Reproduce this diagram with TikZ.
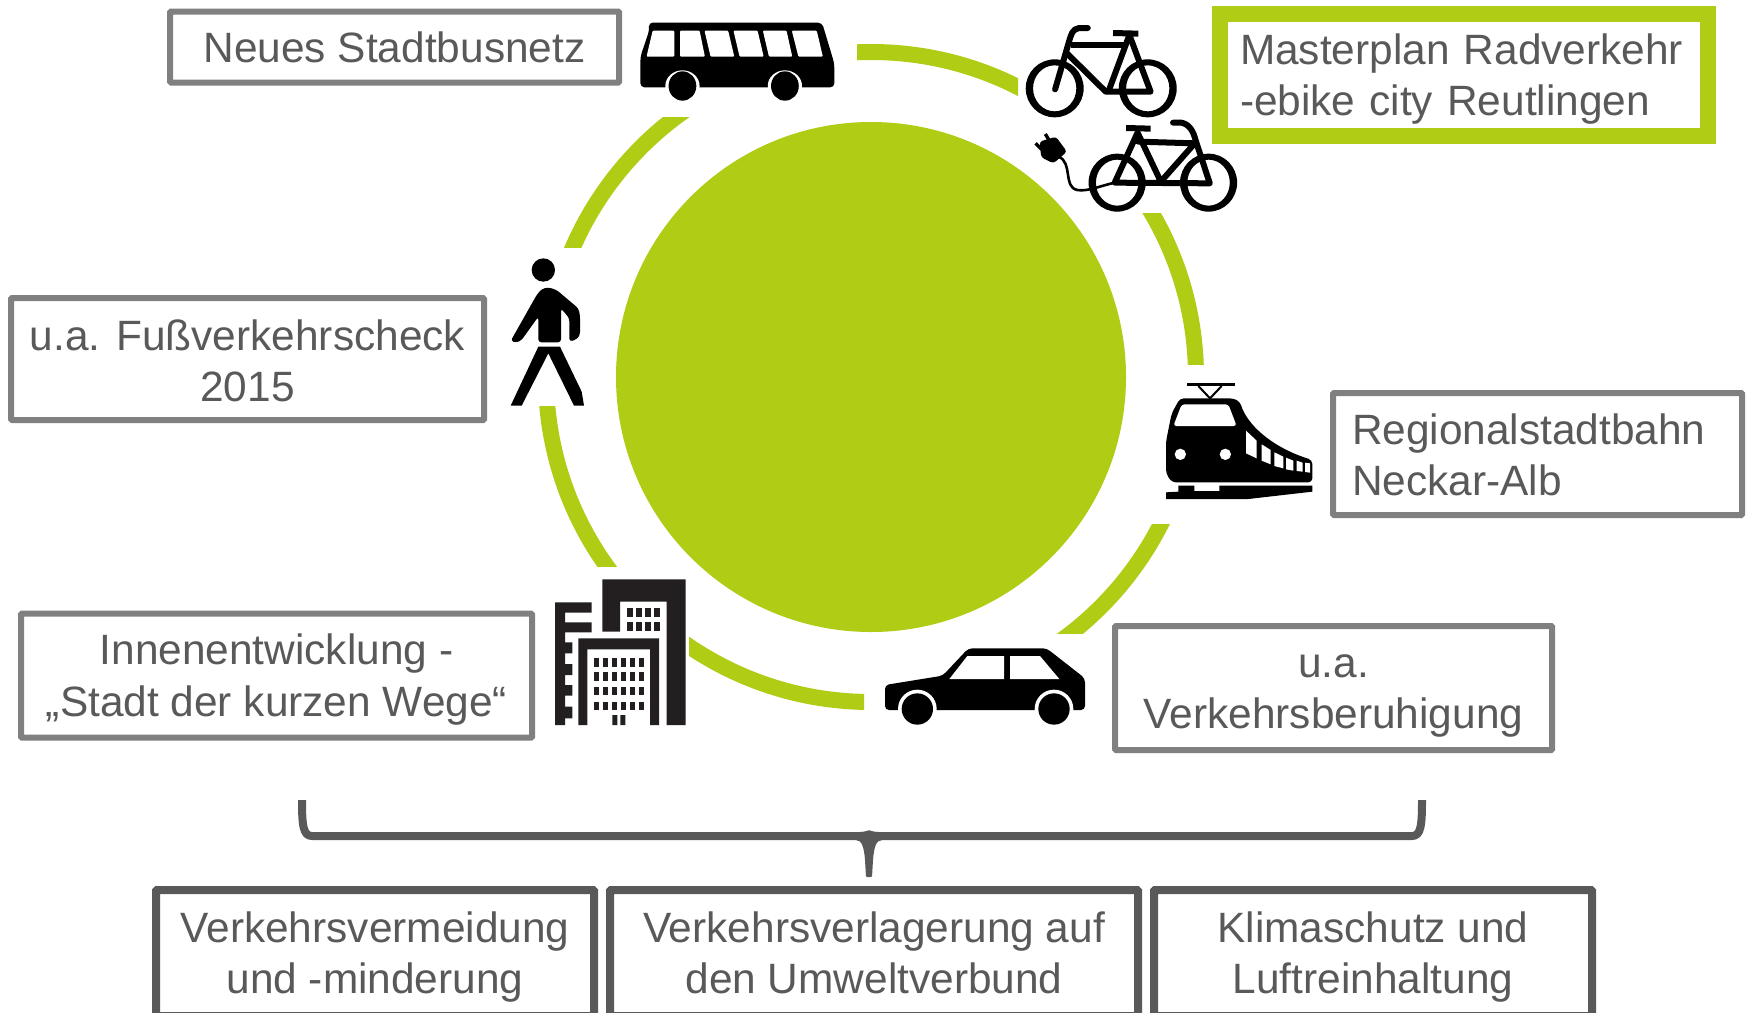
\documentclass[tikz,border=0pt]{standalone}
\usepackage{fontspec}
\setmainfont{Liberation Sans}
\definecolor{lime}{HTML}{B1CC14}
\definecolor{boxgrey}{HTML}{808080}
\definecolor{darkgrey}{HTML}{595959}
\definecolor{build}{HTML}{231F20}
\tikzset{
  lbl/.style={font=\fontsize{42.4}{51.3}\selectfont,text=darkgrey,align=center,inner sep=0pt,outer sep=0pt},
  greybox/.style={lbl,draw=boxgrey,line width=6pt,rounded corners=1pt,fill=white},
  limebox/.style={lbl,draw=lime,line width=16pt,fill=white},
  darkbox/.style={lbl,draw=darkgrey,line width=8pt,rounded corners=1pt,fill=white},
  ringseg/.style={draw=lime,line width=16pt},
  zoomA/.style={shift={(620,0)},xscale=0.40816,yscale=0.33333},
  zoomB/.style={shift={(480,240)},xscale=0.33333,yscale=0.33333},
  zoomC/.style={shift={(860,370)},xscale=0.33333,yscale=0.33333},
}
\newcommand{\sr}{\rule[-10.6pt]{0pt}{51.3pt}}
\newcommand{\srtall}[1]{\rule[-10.6pt]{0pt}{\dimexpr51.3pt+#1\relax}}
\newcommand{\ringpiece}[4]{\begin{scope}\clip (#1,#2) rectangle (#3,#4);\path[ringseg] (centre) circle [radius=325pt];\end{scope}}
\begin{document}
\begin{tikzpicture}[x=1pt,y=-1pt]
\useasboundingbox (0,0) rectangle (1747,1012);
\fill[white] (0,0) rectangle (1747,1012);
\clip (0,0) rectangle (1747,1012);
\coordinate (centre) at (871,377);
\fill[lime] (centre) circle [radius=255pt];
\ringpiece{857}{0}{1018}{200}
\ringpiece{1100}{213}{1300}{364}
\ringpiece{1000}{524}{1250}{633}
\ringpiece{689}{600}{864}{720}
\ringpiece{500}{406}{700}{566}
\ringpiece{500}{117}{720}{247}
% bus
\begin{scope}[zoomA]
\fill[black,rounded corners=4pt] (70,68) -- (495,68) -- (525,190) -- (525,262) -- (50,262) -- (50,170) -- (72,90) -- cycle;
\fill[white,rounded corners=1pt] (80,92) -- (133,92) -- (133,170) -- (65,170) -- cycle;
\fill[white,rounded corners=1pt] (147,92) -- (195,92) -- (208,170) -- (147,170) -- cycle;
\fill[white,rounded corners=1pt] (207,92) -- (265,92) -- (280,170) -- (222,170) -- cycle;
\fill[white,rounded corners=1pt] (278,92) -- (337,92) -- (352,170) -- (293,170) -- cycle;
\fill[white,rounded corners=1pt] (350,92) -- (408,92) -- (422,170) -- (365,170) -- cycle;
\fill[white,rounded corners=1pt] (421,92) -- (482,92) -- (497,170) -- (437,170) -- cycle;
\foreach \wx in {153,404}{
 \fill[white] (\wx,258) ellipse [x radius=42,y radius=47];
 \fill[black] (\wx,258) ellipse [x radius=34,y radius=44];}
\fill[white] (40,263) rectangle (115,300);
\fill[white] (190,263) rectangle (365,300);
\fill[white] (445,263) rectangle (530,300);
% bicycle
\foreach \wx in {1065,1293}{
 \fill[black,even odd rule] (\wx,265) ellipse [x radius=71,y radius=87] (\wx,265) ellipse [x radius=53,y radius=69];}
\draw[black,line width=6pt,line cap=round,line join=round] (1146,84) -- (1125,84) .. controls (1108,86) and (1105,105) .. (1100,125) -- (1066,268);
\draw[black,line width=6pt,line join=round] (1105,135) -- (1240,135);
\draw[black,line width=6pt,line join=round] (1095,160) -- (1190,275) -- (1300,275) -- (1248,105) ;
\draw[black,line width=6pt] (1248,105) -- (1198,270);
\draw[black,line width=6pt] (1208,99) -- (1270,101);
% e-bike
\foreach \wx in {1218,1442}{
 \fill[black,even odd rule] (\wx,548) ellipse [x radius=70,y radius=87] (\wx,548) ellipse [x radius=52,y radius=69];}
\draw[black,line width=6pt,line cap=round,line join=round] (1355,368) -- (1375,368) .. controls (1395,372) and (1405,395) .. (1410,420) -- (1445,550) -- (1212,548) -- (1268,398) -- (1325,545) -- (1408,430) -- (1270,425);
\draw[black,line width=6pt] (1240,384) -- (1300,386);
\draw[black,line width=2.6pt] (1212,548) .. controls (1170,560) and (1145,575) .. (1120,570) .. controls (1085,560) and (1110,490) .. (1075,470);
\fill[black,rounded corners=3pt] (1028,425) -- (1068,410) -- (1095,455) -- (1062,490) -- (1032,472) -- cycle;
\draw[black,line width=3.4pt] (1052,422) -- (1042,402) (1035,450) -- (1018,430);
\end{scope}
% walker, buildings
\begin{scope}[zoomB]
\fill[black] (190,90) circle [radius=35];
\fill[black,rounded corners=3pt] (205,142) -- (230,150) -- (295,205) -- (300,225) -- (300,285) -- (290,298) -- (268,305) -- (268,235) -- (243,205) -- (243,307) -- (175,307) -- (175,230) -- (125,300) -- (110,308) -- (92,303) -- (170,165) -- (185,147) -- cycle;
\fill[black] (175,320) -- (240,320) -- (305,455) -- (312,497) -- (282,497) -- (205,340) -- (125,497) -- (92,497) -- cycle;
\fill[build] (367,1018) -- (617,1018) -- (617,1455) -- (560,1455) -- (560,1085) -- (420,1085) -- (420,1175) -- (367,1175) -- cycle;
\fill[build] (295,1195) -- (537,1195) -- (537,1455) -- (510,1455) -- (510,1228) -- (322,1228) -- (322,1455) -- (295,1455) -- cycle;
\fill[build] (225,1087) -- (335,1087) -- (335,1118) -- (255,1118) -- (255,1147) -- (335,1147) -- (335,1177) -- (255,1177) -- (255,1207) -- (277,1207) -- (277,1240) -- (255,1240) -- (255,1272) -- (277,1272) -- (277,1305) -- (255,1305) -- (255,1335) -- (277,1335) -- (277,1367) -- (255,1367) -- (255,1400) -- (277,1400) -- (277,1435) -- (255,1435) -- (255,1455) -- (225,1455) -- cycle;
\foreach \wx in {440,468,495,522}\foreach \wy in {1103,1147}{\fill[build] (\wx,\wy) rectangle ++(18,27);}
\foreach \wx in {342,369,396,423,450,477}\foreach \wy in {1255,1297,1341,1385}{\fill[build] (\wx,\wy) rectangle ++(16,25);}
\fill[build] (397,1425) rectangle (412,1455) (421,1425) rectangle (436,1455);
\end{scope}
% train, car
\begin{scope}[zoomC]
\fill[black] (982,40) rectangle (1125,48);
\draw[black,line width=2pt] (1015,48) -- (1050,85) -- (1085,48);
\fill[black,rounded corners=4pt] (960,85) -- (1120,85) -- (1140,95) .. controls (1160,160) and (1230,230) .. (1357,270) -- (1357,337) -- (935,337) -- (918,310) -- (918,215) -- (935,130) -- cycle;
\fill[white,rounded corners=3pt] (965,103) -- (1105,103) -- (1130,168) -- (940,168) -- cycle;
\fill[white] (961,253) circle [radius=17] (1096,253) circle [radius=17];
\fill[white] (1158,182) -- (1190,212) -- (1190,265) -- (1158,250) -- cycle;
\fill[white] (1205,223) -- (1232,240) -- (1232,283) -- (1205,272) -- cycle;
\fill[white] (1243,247) -- (1270,260) -- (1270,295) -- (1243,288) -- cycle;
\fill[white] (1278,263) -- (1300,272) -- (1300,302) -- (1278,298) -- cycle;
\fill[white] (1310,272) -- (1328,278) -- (1328,305) -- (1310,303) -- cycle;
\fill[white] (1335,278) -- (1350,280) -- (1350,308) -- (1335,306) -- cycle;
\fill[black] (955,347) -- (1003,347) -- (1003,363) -- (1078,363) -- (1078,347) -- (1357,347) -- (1357,365) -- (1165,387) -- (918,387) -- (918,367) -- (955,365) -- cycle;
\fill[black,rounded corners=4pt] (75,945) -- (248,917) -- (325,835) -- (560,835) -- (675,925) -- (675,1020) -- (75,1020) -- cycle;
\fill[white] (268,927) -- (322,858) -- (432,858) -- (432,927) -- cycle;
\fill[white] (450,858) -- (540,858) -- (598,927) -- (450,927) -- cycle;
\foreach \wx in {172,582}{
 \fill[white] (\wx,1017) circle [radius=58];
 \fill[black] (\wx,1017) circle [radius=47];}
\end{scope}
% text boxes
\node[greybox,minimum width=449pt,minimum height=71pt] (bus) at (394.5,47) {\sr Neues Stadtbusnetz};
\node[limebox,minimum height=122pt,text width=448pt,inner xsep=20pt,align=left] (rad) at (1464,75) {\sr Masterplan Radverkehr\\\sr -ebike city Reutlingen};
\node[greybox,minimum width=473pt,minimum height=122pt] (fuss) at (247.5,359) {\srtall{4pt}u.a. Fußverkehrscheck\\\sr 2015};
\node[greybox,minimum height=122pt,text width=371pt,inner xsep=19pt,align=left] (bahn) at (1537.5,454) {\srtall{2pt}Regionalstadtbahn\\\sr Neckar-Alb};
\node[greybox,minimum width=437pt,minimum height=124pt] (auto) at (1333.5,688) {\sr u.a.\\\sr Verkehrsberuhigung};
\node[greybox,minimum width=511pt,minimum height=124pt] (innen) at (276.5,675.5) {\sr Innenentwicklung -\\\sr „Stadt der kurzen Wege“};
\node[darkbox,minimum width=438pt,minimum height=126pt] (ziel1) at (375,953) {\sr Verkehrsvermeidung\\\sr und -minderung};
\node[darkbox,minimum width=528pt,minimum height=126pt] (ziel2) at (874,953) {\sr Verkehrsverlagerung auf\\\sr den Umweltverbund};
\node[darkbox,minimum width=438pt,minimum height=126pt] (ziel3) at (1373,953) {\sr Klimaschutz und\\\sr Luftreinhaltung};
% brace
\coordinate (braceL) at (302,800);
\coordinate (braceR) at (1422,800);
\coordinate (braceT) at (869,877);
\draw[darkgrey,line width=8pt,line join=round] (braceL) .. controls (302,825) and (303,836) .. (312,836) -- (1412,836) .. controls (1421,836) and (1422,825) .. (braceR);
\fill[darkgrey,rounded corners=1pt] (855,840) .. controls (862,840) and (864,848) .. (865,860) -- (866,877) -- (872,877) -- (873,860) .. controls (874,848) and (876,840) .. (883,840) -- (880,832) .. controls (875,832) and (871,831) .. (869,830) .. controls (867,831) and (863,832) .. (858,832) -- cycle;
\end{tikzpicture}
\end{document}
